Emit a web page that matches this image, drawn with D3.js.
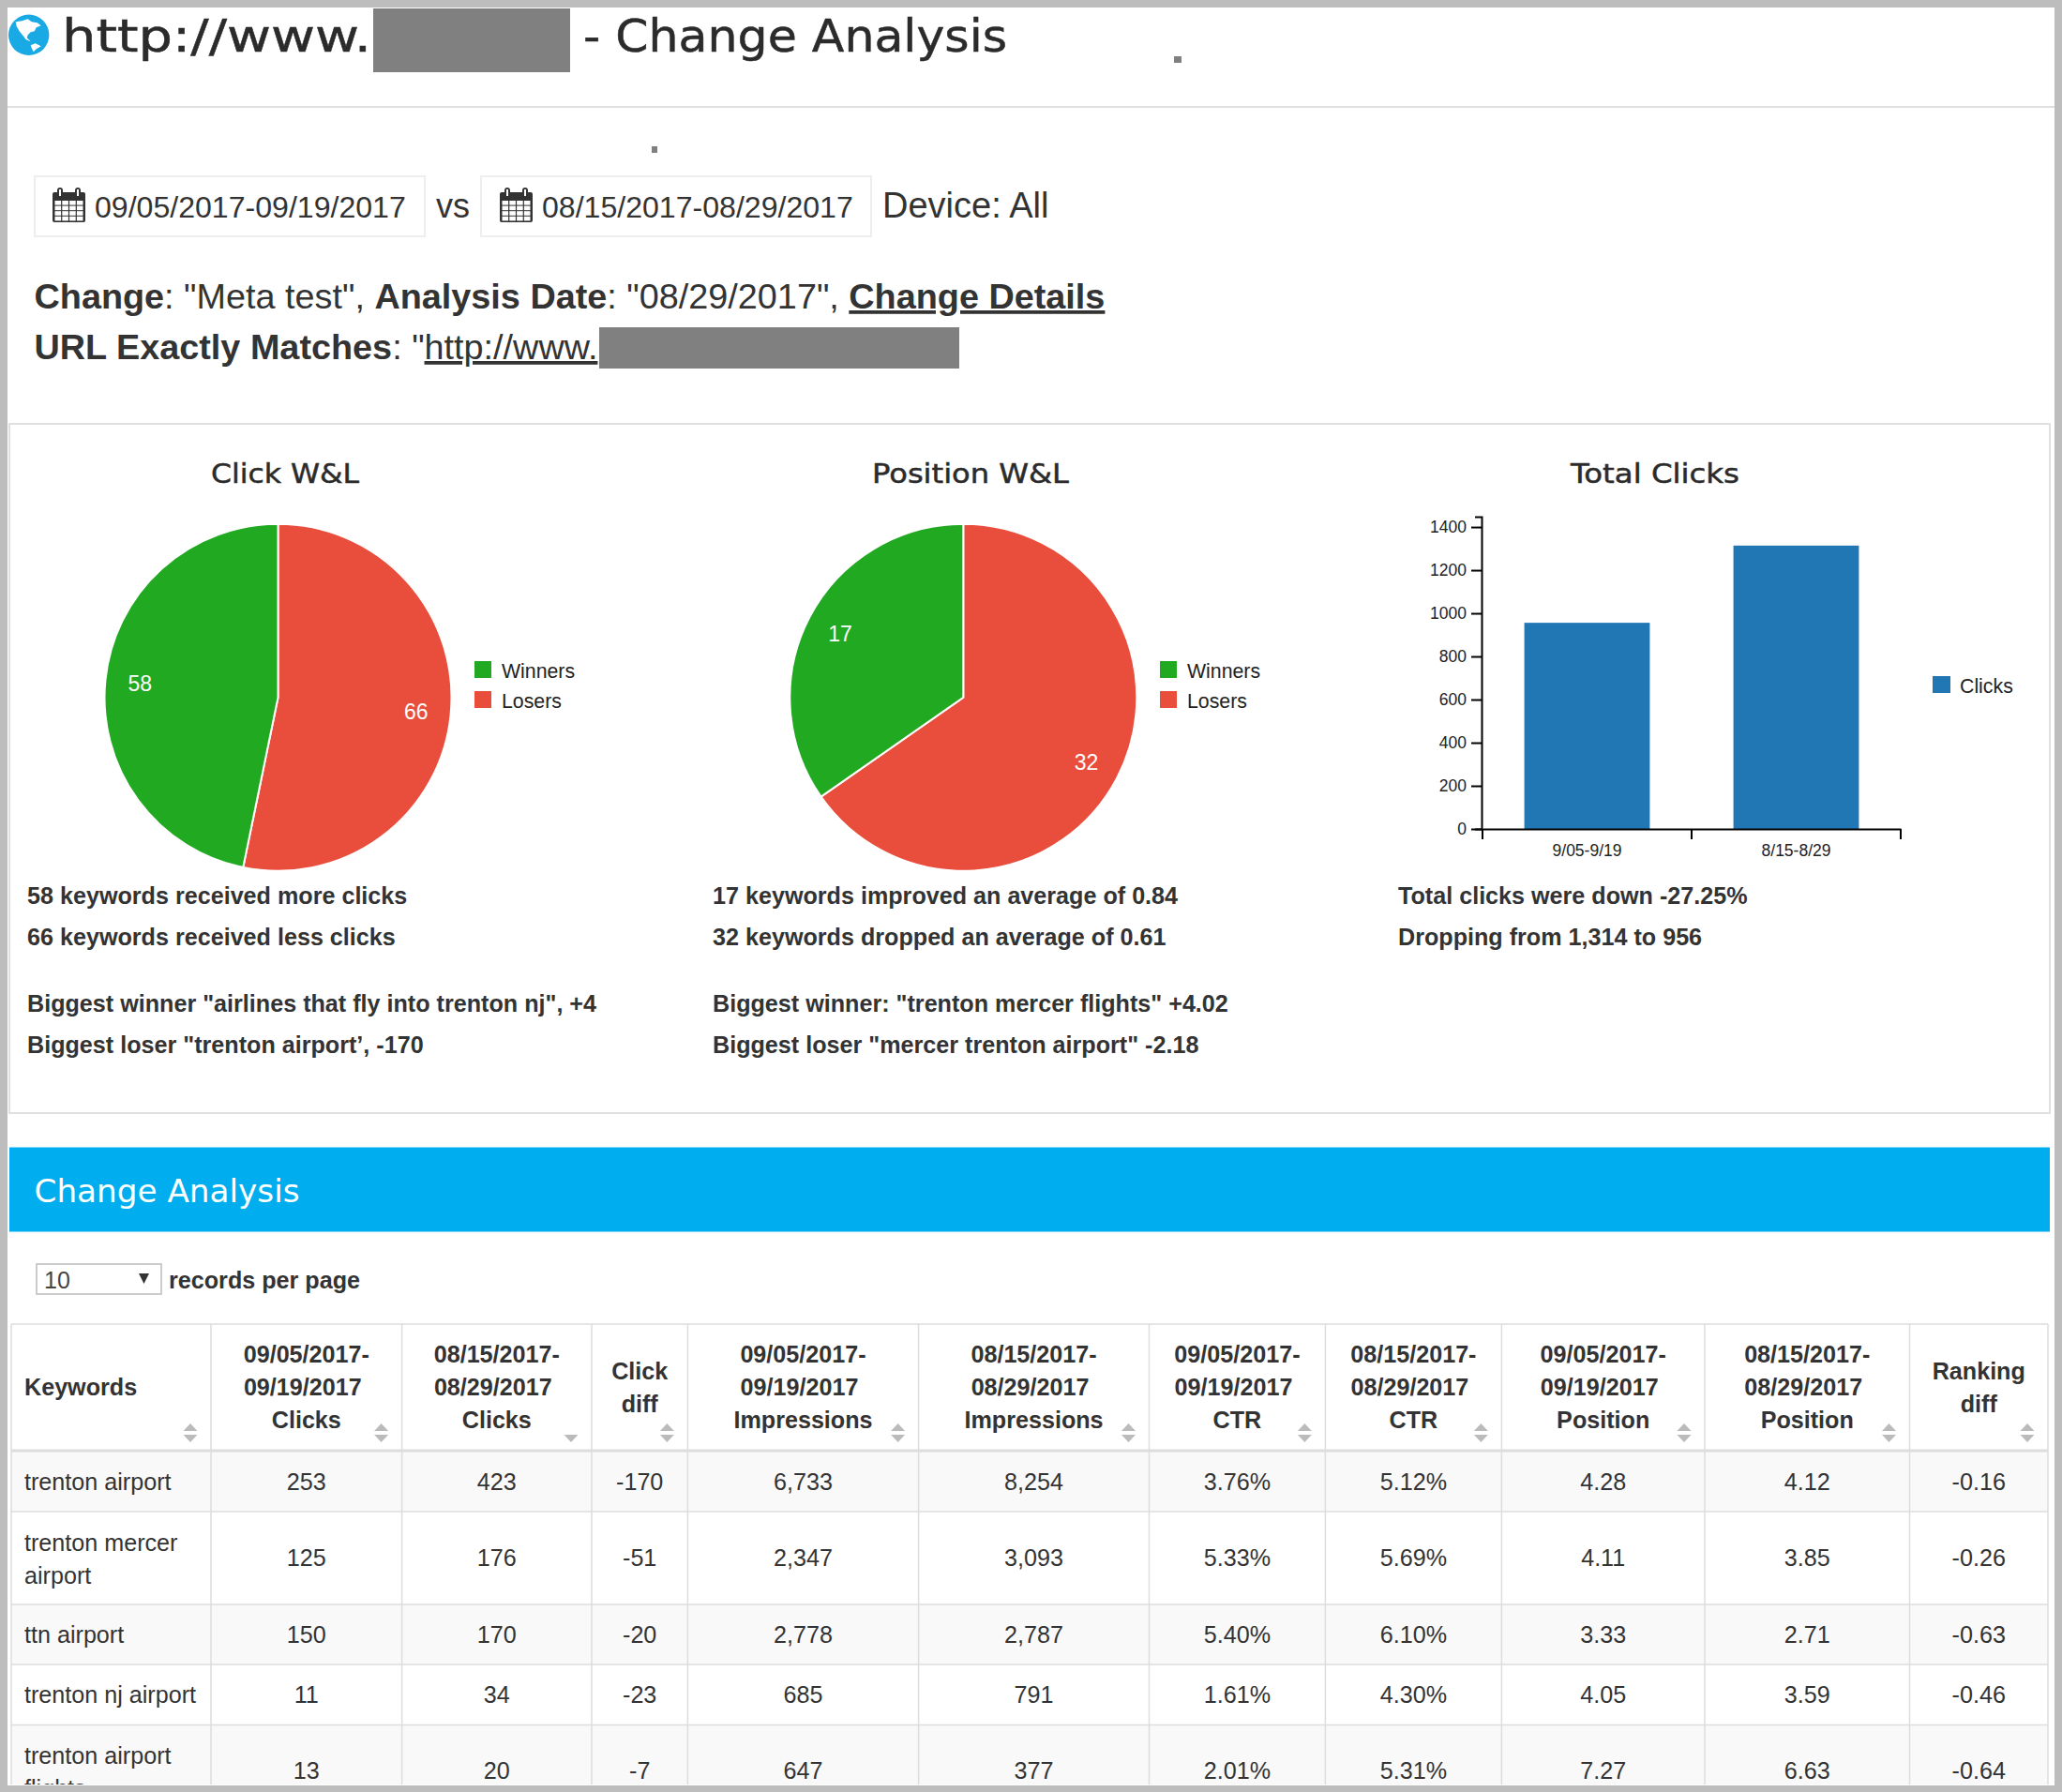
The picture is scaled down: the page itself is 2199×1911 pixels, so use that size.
<!DOCTYPE html>
<html>
<head>
<meta charset="utf-8">
<script src="https://cdn.jsdelivr.net/npm/d3@7"></script>
<style>
  html, body { margin: 0; padding: 0; background: #fff; overflow: hidden; }
  svg { display: block; }
  text { font-family: "Liberation Sans", Arial, sans-serif; fill: #333; }
  .head { font-family: "DejaVu Sans", sans-serif; fill: #2b2b2b; stroke: currentColor; stroke-width: 0.5px; color: #2b2b2b; }
</style>
</head>
<body>
<script>
// chart values
const pieLabels = ["Losers", "Winners"];
const clickWL = [66, 58];
const positionWL = [32, 17];
const barLabels = ["9/05-9/19", "8/15-8/29"];
const barClicks = [956, 1314];
const barTicks = [0, 200, 400, 600, 800, 1000, 1200, 1400];

const clickNotes = ["58 keywords received more clicks", "66 keywords received less clicks", "Biggest winner \"airlines that fly into trenton nj\", +4", "Biggest loser \"trenton airport’, -170"];
const positionNotes = ["17 keywords improved an average of 0.84", "32 keywords dropped an average of 0.61", "Biggest winner: \"trenton mercer flights\" +4.02", "Biggest loser \"mercer trenton airport\" -2.18"];
const totalNotes = ["Total clicks were down -27.25%", "Dropping from 1,314 to 956"];

// table values
const rangeA = ["09/05/2017-", "09/19/2017"];
const rangeB = ["08/15/2017-", "08/29/2017"];
const headers = [
  ["Keywords"], [...rangeA, "Clicks"], [...rangeB, "Clicks"], ["Click", "diff"],
  [...rangeA, "Impressions"], [...rangeB, "Impressions"], [...rangeA, "CTR"], [...rangeB, "CTR"],
  [...rangeA, "Position"], [...rangeB, "Position"], ["Ranking", "diff"]
];
const keywords = [["trenton airport"], ["trenton mercer", "airport"], ["ttn airport"], ["trenton nj airport"], ["trenton airport", "flights"]];
const clicksA = ["253", "125", "150", "11", "13"];
const clicksB = ["423", "176", "170", "34", "20"];
const clickDiff = ["-170", "-51", "-20", "-23", "-7"];
const imprA = ["6,733", "2,347", "2,778", "685", "647"];
const imprB = ["8,254", "3,093", "2,787", "791", "377"];
const ctrA = ["3.76%", "5.33%", "5.40%", "1.61%", "2.01%"];
const ctrB = ["5.12%", "5.69%", "6.10%", "4.30%", "5.31%"];
const posA = ["4.28", "4.11", "3.33", "4.05", "7.27"];
const posB = ["4.12", "3.85", "2.71", "3.59", "6.63"];
const rankDiff = ["-0.16", "-0.26", "-0.63", "-0.46", "-0.64"];
const valueCols = [clicksA, clicksB, clickDiff, imprA, imprB, ctrA, ctrB, posA, posB, rankDiff];

const width = 2199, height = 1911;
const green = "#22a922", red = "#e94e3d", blue = "#2176b4", cyan = "#00aeef", redact = "#808080", rule = "#e0e0e0";

const svg = d3.select("body").append("svg").attr("width", width).attr("height", height);

function label(parent, x, y, str, size, opts = {}) {
  const t = parent.append("text").attr("x", x).attr("y", y).text(str)
    .style("font-size", size + "px")
    .style("font-weight", opts.bold ? "bold" : null)
    .style("fill", opts.fill || null)
    .attr("text-anchor", opts.anchor || "start");
  if (opts.cls) t.attr("class", opts.cls);
  if (opts.len) t.attr("textLength", opts.len).attr("lengthAdjust", "spacingAndGlyphs");
  return t;
}
function box(x0, y0, x1, y1, fill, stroke, sw) {
  return svg.append("rect").attr("x", x0).attr("y", y0).attr("width", x1 - x0).attr("height", y1 - y0)
    .attr("fill", fill).attr("stroke", stroke || "none").attr("stroke-width", sw || 0);
}

// ---- header
label(svg, 66, 55, "http://www.", 48, { cls: "head", len: 330 });
label(svg, 622, 55, "- Change Analysis", 48, { cls: "head", len: 452 });
box(398, 9, 608, 77, redact);
box(1252, 60, 1260, 67, redact);
box(695, 156, 701, 163, redact);
box(8, 113, 2191, 115, rule);

// globe icon
const globe = svg.append("g").attr("transform", "translate(30.7,37.3)");
globe.append("circle").attr("r", 21.7).attr("fill", "#19a9e5");
globe.append("path").attr("fill", "#fff")
  .attr("d", "M-14,-14 L-7,-15 L-1,-17 L3,-14 L9,-13 L13,-10 L8,-8 L6,-4 L2,-3 L-1,0 L-2,3 L2,7 L-3,5 L-6,1 L-10,-4 L-13,-9 Z");
globe.append("path").attr("fill", "#fff").attr("d", "M2,11 L7,9 L13,12 L8,15 L5,18 L3,14 Z");

// date pickers
function calendar(x, y) {
  const g = svg.append("g").attr("transform", `translate(${x},${y})`);
  g.append("rect").attr("x", 0).attr("y", 5).attr("width", 35).attr("height", 32).attr("rx", 2).attr("fill", "#333");
  d3.range(4).forEach(r => d3.range(4).forEach(c => {
    g.append("rect").attr("x", 2.5 + c * 7.8).attr("y", 14 + r * 5.6).attr("width", 6.6).attr("height", 4.6).attr("fill", "#fff");
  }));
  [8, 27].forEach(cx => {
    g.append("rect").attr("x", cx - 3).attr("y", 0).attr("width", 6).attr("height", 11).attr("rx", 3).attr("fill", "#333");
    g.append("rect").attr("x", cx - 1).attr("y", 2).attr("width", 2).attr("height", 7).attr("fill", "#fff");
  });
}
box(37, 188, 453, 252, "#fff", "#eee", 2);
box(513, 188, 929, 252, "#fff", "#eee", 2);
calendar(56, 200);
calendar(533, 200);
label(svg, 101, 232, "09/05/2017-09/19/2017", 32.1);
label(svg, 578, 232, "08/15/2017-08/29/2017", 32.1);
label(svg, 465, 232, "vs", 36);
label(svg, 941, 232, "Device: All", 38);

// change description
const line1 = label(svg, 36.5, 329, "", 37.8);
[["Change", 1], [": \"Meta test\", ", 0], ["Analysis Date", 1], [": \"08/29/2017\", ", 0], ["Change Details", 2]].forEach(([s, k]) => {
  line1.append("tspan").text(s).style("font-weight", k ? "bold" : null).style("text-decoration", k === 2 ? "underline" : null);
});
const line2 = label(svg, 36.5, 383, "", 37.8);
[["URL Exactly Matches", 1], [": \"", 0], ["http://www.", 2]].forEach(([s, k]) => {
  line2.append("tspan").text(s).style("font-weight", k === 1 ? "bold" : null).style("text-decoration", k === 2 ? "underline" : null);
});
box(639, 349, 1023, 393, redact);

// ---- chart panel
box(10, 452, 2186, 1187, "#fff", rule, 2);

const pieRadius = 185;
const arc = d3.arc().innerRadius(0).outerRadius(pieRadius);
const arcLabel = d3.arc().innerRadius(pieRadius * 0.8).outerRadius(pieRadius * 0.8);
const colorPie = d3.scaleOrdinal().domain(pieLabels).range([red, green]);
const pie = d3.pie().sort(null);

function drawPie(values, cx, cy, legendX) {
  const g = svg.append("g").attr("transform", `translate(${cx},${cy})`);
  const arcs = pie(values);
  g.selectAll("path").data(arcs).join("path")
    .attr("d", arc)
    .attr("fill", (d, i) => colorPie(pieLabels[i]))
    .attr("stroke", "#fff").attr("stroke-width", 2);
  g.selectAll("text").data(arcs).join("text")
    .attr("transform", d => `translate(${arcLabel.centroid(d)})`)
    .attr("text-anchor", "middle").attr("dy", "0.36em")
    .style("font-size", "23px").style("fill", "#fff")
    .text(d => d.value);
  const lg = svg.append("g").attr("transform", `translate(${legendX},705)`);
  ["Winners", "Losers"].forEach((name, i) => {
    lg.append("rect").attr("y", i * 32).attr("width", 18).attr("height", 18).attr("fill", colorPie(name));
    label(lg, 29, 18 + i * 32, name, 21.3, { fill: "#222" });
  });
}
drawPie(clickWL, 296.5, 743.8, 506);
drawPie(positionWL, 1027.3, 743.8, 1237);

// bar chart
const x = d3.scaleBand().domain(barLabels).range([1581, 2027]).paddingInner(0.4).paddingOuter(0.2);
const y = d3.scaleLinear().domain([0, 1448]).range([884, 551]);
const clicksG = svg.append("g");
clicksG.selectAll("rect").data(barClicks).join("rect")
  .attr("x", (d, i) => x(barLabels[i]))
  .attr("y", d => y(d))
  .attr("width", x.bandwidth())
  .attr("height", d => y(0) - y(d))
  .attr("fill", blue);

const yAxis = clicksG.append("g").attr("transform", "translate(1580,0)")
  .call(d3.axisLeft(y).tickValues(barTicks).tickFormat(d3.format("d")).tickSize(11).tickSizeOuter(7).tickPadding(5));
const xAxis = clicksG.append("g").attr("transform", "translate(0,884)")
  .call(d3.axisBottom(x).tickSize(0).tickPadding(17));
// ticks of the x axis sit on the band edges, the labels stay centred
xAxis.selectAll(".edge").data([x.range()[0], x(barLabels[1]) - x.step() * 0.2, x.range()[1]]).join("line")
  .attr("class", "edge").attr("x1", d => d).attr("x2", d => d).attr("y1", 0).attr("y2", 11)
  .attr("stroke", "#000").attr("stroke-width", 2);
[yAxis, xAxis].forEach(a => {
  a.selectAll("path.domain").attr("stroke", "#000").attr("stroke-width", 2);
  a.selectAll(".tick line").attr("stroke", "#000").attr("stroke-width", 2);
  a.selectAll(".tick text").style("font-size", "17.5px").style("fill", "#222").style("font-family", "Liberation Sans");
});
box(2061, 721, 2080, 739, blue);
label(svg, 2090, 739, "Clicks", 21.3, { fill: "#222" });

// panel titles
label(svg, 304, 515, "Click W&L", 29, { cls: "head", anchor: "middle", len: 158 });
label(svg, 1035, 515, "Position W&L", 29, { cls: "head", anchor: "middle", len: 210 });
label(svg, 1765, 515, "Total Clicks", 29, { cls: "head", anchor: "middle", len: 180 });

// notes under the charts
const noteY = [963.7, 1007.7, 1078.5, 1122.7];
function notes(lines, nx) {
  lines.forEach((s, i) => label(svg, nx, noteY[i], s, 25.15, { bold: true }));
}
notes(clickNotes, 29);
notes(positionNotes, 760);
notes(totalNotes, 1491);

// ---- change analysis band
box(10, 1223.5, 2186, 1313.5, cyan);
label(svg, 36.5, 1282, "Change Analysis", 34, { cls: "head", len: 283 }).style("fill", "#fff").style("stroke", "none");

box(39, 1348, 172, 1380, "#fff", "#ccc", 2);
label(svg, 47, 1374, "10", 25, { fill: "#444" });
svg.append("path").attr("d", "M148,1358 L159,1358 L153.5,1369 Z").attr("fill", "#333");
label(svg, 180, 1374, "records per page", 25.15, { bold: true });

// ---- table
const colEdges = [12, 225, 428.6, 631, 733.4, 979.6, 1225.5, 1413.4, 1601.4, 1818, 2036.5, 2184];
const rowEdges = [1548, 1612, 1711, 1775, 1839.5, 1903];
const centres = colEdges.slice(0, -1).map((e, i) => (e + colEdges[i + 1]) / 2);

svg.append("clipPath").attr("id", "tableClip").append("rect")
  .attr("x", 0).attr("y", 0).attr("width", width).attr("height", rowEdges[5]);
const table = svg.append("g").attr("clip-path", "url(#tableClip)");

keywords.forEach((k, r) => {
  if (r % 2 === 0) {
    table.append("rect").attr("x", colEdges[0]).attr("y", rowEdges[r])
      .attr("width", colEdges[11] - colEdges[0]).attr("height", rowEdges[r + 1] - rowEdges[r]).attr("fill", "#f9f9f9");
  }
});
const gridLine = (x1, y1, x2, y2, sw) => table.append("line")
  .attr("x1", x1).attr("y1", y1).attr("x2", x2).attr("y2", y2).attr("stroke", "#ddd").attr("stroke-width", sw || 1.5);
colEdges.slice(0, -1).forEach(e => gridLine(e, 1412, e, rowEdges[5]));
gridLine(colEdges[11], 1412, colEdges[11], rowEdges[5]);
gridLine(colEdges[0], 1412, colEdges[11], 1412);
gridLine(colEdges[0], 1547, colEdges[11], 1547, 3);
rowEdges.slice(1, 5).forEach(e => gridLine(colEdges[0], e, colEdges[11], e));

// header cells, centred on the middle line; the second date line hangs a little left
headers.forEach((lines, c) => {
  const first = 1488 - (lines.length - 1) * 17.5;
  lines.forEach((s, i) => {
    label(table, c === 0 ? 26 : centres[c] - (lines.length === 3 && i === 1 ? 4 : 0), first + i * 35, s, 25.15,
      { bold: true, anchor: c === 0 ? "start" : "middle" });
  });
  const ax = colEdges[c + 1] - 22;
  if (c !== 2) table.append("path").attr("d", `M${ax - 7.5},1526 L${ax},1518 L${ax + 7.5},1526 Z`).attr("fill", "#bbb");
  table.append("path").attr("d", `M${ax - 7.5},1530 L${ax},1538 L${ax + 7.5},1530 Z`).attr("fill", "#bbb");
});

// body cells
const kwBase = [[1589], [1653.5, 1688.5], [1752], [1816], [1880.5, 1915.5]];
const valBase = [1589, 1670, 1752, 1816, 1897];
keywords.forEach((lines, r) => {
  lines.forEach((s, i) => label(table, 26, kwBase[r][i], s, 25.15));
  valueCols.forEach((col, c) => label(table, centres[c + 1], valBase[r], col[r], 25.15, { anchor: "middle" }));
});

// outer grey frame
const frame = "#bdbdbd";
box(0, 0, width, 8, frame);
box(0, 0, 8, height, frame);
box(2191, 0, width, height, frame);
box(0, 1904, width, height, frame);
</script>
</body>
</html>
